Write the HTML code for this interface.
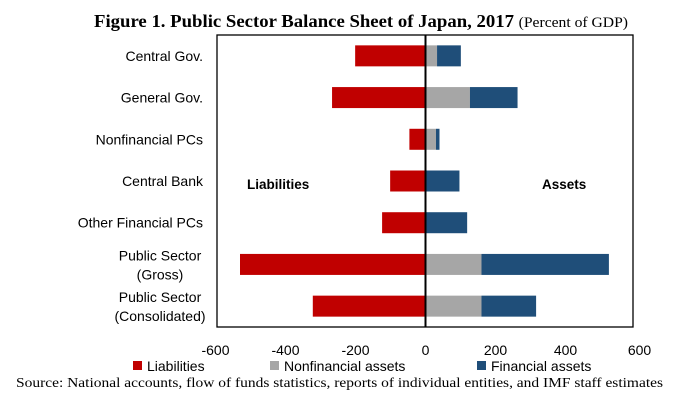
<!DOCTYPE html>
<html><head><meta charset="utf-8">
<style>
html,body{margin:0;padding:0;background:#fff;}
body{width:682px;height:409px;overflow:hidden;}
svg text{font-family:"Liberation Sans",sans-serif;}
</style></head>
<body>
<svg width="682" height="409" viewBox="0 0 682 409" xmlns="http://www.w3.org/2000/svg" id="chart">
<text x="94" y="27" textLength="534" lengthAdjust="spacingAndGlyphs" style="font-family:'Liberation Serif',serif;font-weight:bold;font-size:18px;">Figure 1. Public Sector Balance Sheet of Japan, 2017 <tspan style="font-weight:normal;font-size:15px;">(Percent of GDP)</tspan></text>
<rect x="217" y="35" width="416" height="292" fill="none" stroke="#000" stroke-width="1.3"/>
<g id="bars"></g>
<line x1="425.5" y1="35" x2="425.5" y2="327" stroke="#000" stroke-width="2"/>
<text x="247" y="189" font-weight="bold" font-size="13.5">Liabilities</text>
<text x="542" y="189" font-weight="bold" font-size="13.5">Assets</text>
<g id="ticks"></g>
<g id="labels"></g>
<g>
<rect x="133" y="361" width="9" height="9" fill="#c00000"/>
<text x="147" y="371" font-size="14">Liabilities</text>
<rect x="270" y="361" width="9" height="9" fill="#a6a6a6"/>
<text x="284" y="371" font-size="14">Nonfinancial assets</text>
<rect x="477" y="361" width="9" height="9" fill="#1f4e79"/>
<text x="491" y="371" font-size="14">Financial assets</text>
</g>
<text x="16" y="387" style="font-family:'Liberation Serif',serif;font-size:14px;" textLength="647" lengthAdjust="spacingAndGlyphs">Source: National accounts, flow of funds statistics, reports of individual entities, and IMF staff estimates</text>
</svg>
<script>
const categories = [["Central Gov."],["General Gov."],["Nonfinancial PCs"],["Central Bank"],["Other Financial PCs"],["Public Sector","(Gross)"],["Public Sector","(Consolidated)"]];
const liabilities = [-201,-267,-46,-101,-124,-530,-322];
const nonfinancial = [33,127,30,0,0,160,160];
const financial = [68,136,10,97,119,364,156];
const ticks = [-600,-400,-200,0,200,400,600];

const NS="http://www.w3.org/2000/svg";
const x0=425.5, sc=0.35, plotTop=35, band=292/7, bh=21;
function xs(v){return x0+v*sc;}
function yc(i){return plotTop+(i+0.5)*band;}
const bars=document.getElementById('bars');
function rect(x1,x2,i,fill,name){
  const r=document.createElementNS(NS,'rect');
  r.setAttribute('x',Math.min(x1,x2));r.setAttribute('width',Math.abs(x2-x1));
  r.setAttribute('y',yc(i)-bh/2);r.setAttribute('height',bh);r.setAttribute('fill',fill);
  
  
  bars.appendChild(r);
}
categories.forEach((c,i)=>{
  rect(xs(liabilities[i]),xs(0),i,'#c00000','bar-liabilities');
  rect(xs(0),xs(nonfinancial[i]),i,'#a6a6a6','bar-nonfinancial');
  rect(xs(nonfinancial[i]),xs(nonfinancial[i]+financial[i]),i,'#1f4e79','bar-financial');
  const t=document.createElementNS(NS,'text');
  
  
  t.setAttribute('x',203);t.setAttribute('text-anchor','end');t.setAttribute('font-size','14');
  if(c.length===1){t.setAttribute('y',yc(i)+5);t.textContent=c[0];}
  else{
    const a=document.createElementNS(NS,'tspan');a.setAttribute('x',160);a.setAttribute('text-anchor','middle');a.setAttribute('y',yc(i)-4);a.textContent=c[0];
    const b=document.createElementNS(NS,'tspan');b.setAttribute('x',160);b.setAttribute('text-anchor','middle');b.setAttribute('y',yc(i)+15);b.textContent=c[1];
    t.appendChild(a);t.appendChild(b);
  }
  document.getElementById('labels').appendChild(t);
});
ticks.forEach(v=>{
  const t=document.createElementNS(NS,'text');
  
  
  t.setAttribute('x',xs(v)+(v===600?4:0));t.setAttribute('y',355);t.setAttribute('text-anchor','middle');t.setAttribute('font-size','14');
  t.textContent=v;
  document.getElementById('ticks').appendChild(t);
});
</script>
</body></html>
